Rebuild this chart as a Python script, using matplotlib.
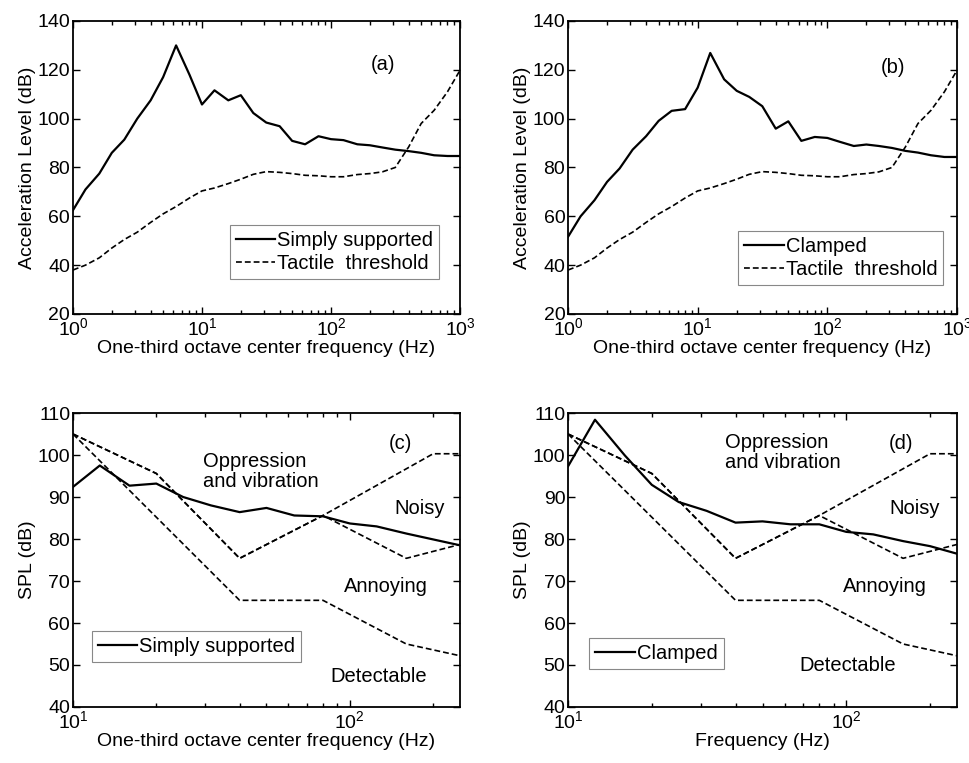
import matplotlib
matplotlib.use("Agg")
import matplotlib.pyplot as plt
from matplotlib.ticker import LogLocator, NullFormatter

plt.rcParams['font.family'] = ['Liberation Sans', 'DejaVu Sans']
plt.rcParams['font.size'] = 14
plt.rcParams['mathtext.default'] = 'regular'

# One-third octave frequencies (Hz)
freq_ab = [1, 1.25, 1.6, 2, 2.5, 3.15, 4, 5, 6.3, 8, 10, 12.5, 16, 20, 25, 31.5,
           40, 50, 63, 80, 100, 125, 160, 200, 250, 315, 400, 500, 630, 800, 1000]
accel_simply = [62.5, 71, 77.5, 86, 91.4, 100, 107.5, 117, 130, 118, 105.8, 111.6,
                107.5, 109.6, 102.3, 98.4, 96.9, 90.9, 89.5, 92.8, 91.6, 91.2, 89.5,
                89.1, 88.2, 87.3, 86.7, 86, 85, 84.7, 84.7]
accel_clamped = [51.6, 60, 66.6, 74.1, 79.6, 87.3, 92.8, 99.1, 103.2, 103.9, 112.7,
                 126.9, 116.1, 111.4, 108.9, 105.1, 95.9, 98.9, 90.9, 92.5, 92.1, 90.5,
                 88.8, 89.4, 88.8, 88, 86.8, 86.1, 85, 84.3, 84.3]
tactile = [38, 40, 43, 47, 50.5, 53.5, 57.5, 61, 64, 67.5, 70.4, 71.6, 73.4, 75.2,
           77.2, 78.3, 78, 77.5, 76.8, 76.6, 76.2, 76.2, 77.1, 77.5, 78.2, 80,
           88.4, 98, 103.4, 111, 119.8]

freq_cd = [10, 12.5, 16, 20, 25, 31.5, 40, 50, 63, 80, 100, 125, 160, 200, 250]
spl_simply = [92.4, 97.5, 92.7, 93.2, 90, 88, 86.4, 87.4, 85.6, 85.4, 83.7, 83,
              81.3, 79.9, 78.5]
spl_clamped = [97.3, 108.4, 99.9, 92.9, 88.8, 86.7, 83.9, 84.2, 83.5, 83.5, 81.7,
               81.1, 79.5, 78.3, 76.5]

# Criteria curves
crit_noisy_f = [10, 20, 40, 80, 200, 250]
crit_noisy_v = [105, 95.6, 75.4, 85.6, 100.3, 100.3]
crit_annoy_f = [10, 20, 40, 80, 160, 250]
crit_annoy_v = [105, 95.6, 75.4, 85.6, 75.4, 78.7]
crit_detect_f = [10, 40, 80, 160, 250]
crit_detect_v = [105, 65.4, 65.4, 55, 52.2]

fig = plt.figure(figsize=(9.69, 7.63), dpi=100)

pos = {
    'a': [0.0753, 0.5885, 0.3994, 0.3840],
    'b': [0.5862, 0.5885, 0.4014, 0.3840],
    'c': [0.0753, 0.0734, 0.3994, 0.3853],
    'd': [0.5862, 0.0734, 0.4014, 0.3853],
}

dash = (0, (3.5, 1.8))
FS = 14
FT = 14.5


def style(ax):
    ax.set_xscale('log')
    ax.tick_params(which='both', direction='in', top=True, right=True,
                   labelsize=FS, width=1, pad=2)
    ax.tick_params(which='major', length=5)
    ax.tick_params(which='minor', length=3)
    ax.xaxis.set_minor_locator(LogLocator(base=10, subs=range(2, 10), numticks=20))
    ax.xaxis.set_minor_formatter(NullFormatter())
    for s in ax.spines.values():
        s.set_linewidth(1.3)


def leg(ax, loc, anchor):
    lg = ax.legend(loc=loc, bbox_to_anchor=anchor, fancybox=False, framealpha=1,
                   edgecolor='#888888', fontsize=FT, handlelength=1.95,
                   handletextpad=0.1, borderpad=0.3, labelspacing=0.2,
                   borderaxespad=0)
    lg.get_frame().set_linewidth(0.8)


# (a)
ax = fig.add_axes(pos['a'])
style(ax)
ax.plot(freq_ab, accel_simply, 'k-', lw=1.6, label='Simply supported')
ax.plot(freq_ab, tactile, color='k', ls=dash, lw=1.2, label='Tactile  threshold')
ax.set_xlim(1, 1000)
ax.set_ylim(20, 140)
ax.set_yticks(range(20, 141, 20))
ax.set_ylabel('Acceleration Level (dB)', fontsize=FS, labelpad=1)
ax.set_xlabel('One-third octave center frequency (Hz)', fontsize=FS, labelpad=1)
ax.text(0.80, 0.85, '(a)', transform=ax.transAxes, ha='center', va='center', fontsize=FT)
leg(ax, 'lower right', (0.947, 0.12))

# (b)
ax = fig.add_axes(pos['b'])
style(ax)
ax.plot(freq_ab, accel_clamped, 'k-', lw=1.6, label='Clamped')
ax.plot(freq_ab, tactile, color='k', ls=dash, lw=1.2, label='Tactile  threshold')
ax.set_xlim(1, 1000)
ax.set_ylim(20, 140)
ax.set_yticks(range(20, 141, 20))
ax.set_ylabel('Acceleration Level (dB)', fontsize=FS, labelpad=1)
ax.set_xlabel('One-third octave center frequency (Hz)', fontsize=FS, labelpad=1)
ax.text(0.835, 0.84, '(b)', transform=ax.transAxes, ha='center', va='center', fontsize=FT)
leg(ax, 'lower right', (0.965, 0.10))


def criteria(ax):
    ax.plot(crit_noisy_f, crit_noisy_v, color='k', ls=dash, lw=1.2)
    ax.plot(crit_annoy_f, crit_annoy_v, color='k', ls=dash, lw=1.2)
    ax.plot(crit_detect_f, crit_detect_v, color='k', ls=dash, lw=1.2)
    ax.set_xlim(10, 250)
    ax.set_ylim(40, 110)
    ax.set_yticks(range(40, 111, 10))
    ax.set_ylabel('SPL (dB)', fontsize=FS, labelpad=1)


# (c)
ax = fig.add_axes(pos['c'])
style(ax)
ax.plot(freq_cd, spl_simply, 'k-', lw=1.6, label='Simply supported')
criteria(ax)
ax.set_xlabel('One-third octave center frequency (Hz)', fontsize=FS, labelpad=1)
ax.text(0.335, 0.80, 'Oppression\nand vibration', transform=ax.transAxes,
        ha='left', va='center', fontsize=FT, linespacing=1.05)
ax.text(0.845, 0.895, '(c)', transform=ax.transAxes, ha='center', va='center', fontsize=FT)
ax.text(0.895, 0.675, 'Noisy', transform=ax.transAxes, ha='center', va='center', fontsize=FT)
ax.text(0.809, 0.41, 'Annoying', transform=ax.transAxes, ha='center', va='center', fontsize=FT)
ax.text(0.79, 0.105, 'Detectable', transform=ax.transAxes, ha='center', va='center', fontsize=FT)
leg(ax, 'upper left', (0.048, 0.26))

# (d)
ax = fig.add_axes(pos['d'])
style(ax)
ax.plot(freq_cd, spl_clamped, 'k-', lw=1.6, label='Clamped')
criteria(ax)
ax.set_xlabel('Frequency (Hz)', fontsize=FS, labelpad=1)
ax.text(0.404, 0.865, 'Oppression\nand vibration', transform=ax.transAxes,
        ha='left', va='center', fontsize=FT, linespacing=1.05)
ax.text(0.856, 0.895, '(d)', transform=ax.transAxes, ha='center', va='center', fontsize=FT)
ax.text(0.89, 0.675, 'Noisy', transform=ax.transAxes, ha='center', va='center', fontsize=FT)
ax.text(0.815, 0.41, 'Annoying', transform=ax.transAxes, ha='center', va='center', fontsize=FT)
ax.text(0.72, 0.14, 'Detectable', transform=ax.transAxes, ha='center', va='center', fontsize=FT)
leg(ax, 'upper left', (0.055, 0.235))

fig.savefig('out.png', dpi=100, facecolor='white')
